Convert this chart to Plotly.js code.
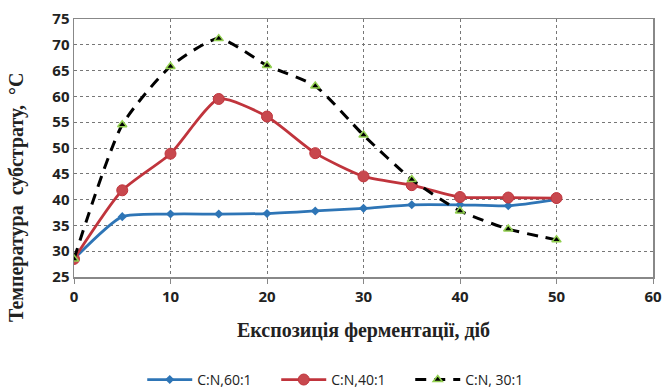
<!DOCTYPE html>
<html><head><meta charset="utf-8">
<script src="https://cdn.plot.ly/plotly-3.0.1.min.js"></script>
<style>body{margin:0;padding:0;background:#fff}#chart{width:663px;height:391px}</style>
</head><body><div id="chart"></div>
<script>
const days = [0, 5, 10, 15, 20, 25, 30, 35, 40, 45, 50];
const cn60 = [28.5, 36.7, 37.2, 37.2, 37.3, 37.8, 38.3, 39.0, 39.0, 38.8, 40.0];
const cn40 = [28.5, 41.8, 48.9, 59.5, 56.1, 49.0, 44.5, 42.8, 40.5, 40.4, 40.3];
const cn30 = [28.5, 54.5, 65.8, 71.2, 66.0, 62.0, 52.5, 43.9, 37.8, 34.3, 32.2];
const names = ['C:N,60:1', 'C:N,40:1', 'C:N, 30:1'];
const yTitle = 'Температура  субстрату,  °С';
const xTitle = 'Експозиція ферментації, діб';

const traces = [
  {x: days, y: cn60, name: names[0], mode: 'lines+markers',
   line: {color: '#2E75B6', width: 2.75, shape: 'spline', smoothing: 0.6},
   marker: {symbol: 'diamond', size: 7, color: '#2E75B6'}},
  {x: days, y: cn40, name: names[1], mode: 'lines+markers',
   line: {color: '#C0343C', width: 2.75, shape: 'spline', smoothing: 0.6},
   marker: {symbol: 'circle', size: 11, color: '#C8484E', line: {color: '#C0343C', width: 1}}},
  {x: days, y: cn30, name: names[2], mode: 'lines+markers',
   line: {color: '#000000', width: 3, dash: '11px,8px', shape: 'spline', smoothing: 0.6},
   marker: {symbol: 'triangle-up', size: 8, color: '#000000', line: {color: '#92D050', width: 1.5}}}
];

const layout = {
  width: 663, height: 391,
  margin: {l: 74, r: 10, t: 19, b: 114, autoexpand: false},
  paper_bgcolor: '#fff', plot_bgcolor: '#fff',
  showlegend: true,
  legend: {orientation: 'h', x: 0.465, xanchor: 'center', y: -0.399, yanchor: 'middle',
    font: {family: 'Open Sans, sans-serif', size: 14, color: '#222'}, itemwidth: 45,
    entrywidth: 74, entrywidthmode: 'pixels', traceorder: 'normal'},
  xaxis: {range: [0, 60], dtick: 10, tick0: 0, showgrid: true, gridcolor: '#777', griddash: 'dot', gridwidth: 1,
    showline: true, linecolor: '#888', linewidth: 1.5, mirror: true, zeroline: false,
    ticks: 'outside', ticklen: 5, tickcolor: '#888', automargin: false,
    tickfont: {family: 'Open Sans, sans-serif', size: 15, color: '#222', weight: 'bold'},
    title: {text: '<b>' + xTitle + '</b>', font: {family: 'Liberation Serif, serif', size: 20, color: '#222'}, standoff: 18}},
  yaxis: {range: [25, 75], dtick: 5, tick0: 25, showgrid: true, gridcolor: '#777', griddash: 'dot', gridwidth: 1,
    showline: true, linecolor: '#888', linewidth: 1.5, mirror: true, zeroline: false, automargin: false,
    ticks: '', tickfont: {family: 'Open Sans, sans-serif', size: 15, color: '#222', weight: 'bold'}},
  annotations: [{text: '<b>' + yTitle + '</b>', xref: 'paper', yref: 'paper', x: -0.1, y: 0.31,
    xanchor: 'center', yanchor: 'middle', textangle: -90, showarrow: false,
    font: {family: 'Liberation Serif, serif', size: 20, color: '#222'}}]
};
Plotly.newPlot('chart', traces, layout, {displayModeBar: false, staticPlot: true});
</script></body></html>
